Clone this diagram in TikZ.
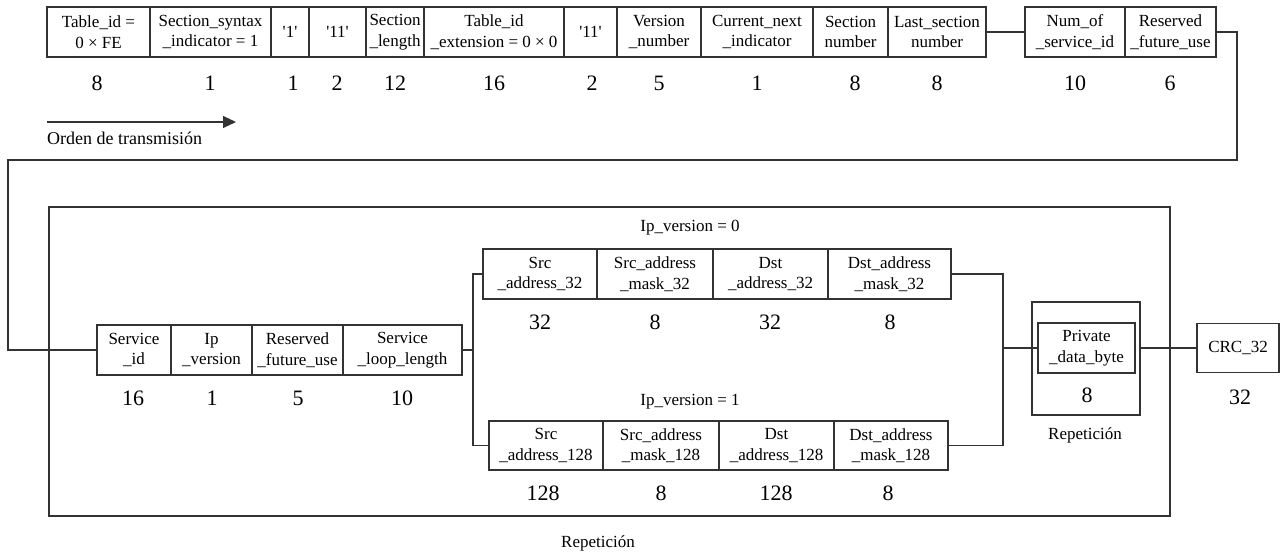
\documentclass[tikz,border=0pt]{standalone}
\usepackage{fontspec}
\setmainfont{Liberation Serif}
\usetikzlibrary{arrows.meta}
\newcommand{\sq}{\textquotesingle}
\begin{document}
\begin{tikzpicture}[x=1pt,y=-1pt,
  ln/.style={draw=black!80,line width=1.1pt},
  fbox/.style={ln,rectangle,inner sep=0pt,align=center,font=\fontsize{17}{20.5}\selectfont},
  num/.style={inner sep=0pt,font=\fontsize{22}{24}\selectfont},
  lbl/.style={inner sep=0pt,font=\fontsize{17}{20}\selectfont}]
\useasboundingbox (0,0) rectangle (1282,556);
% top row
\node[fbox,minimum width=103pt,minimum height=50pt] (t1) at (98.5,32) {Table\_id =\\0 × FE};
\node[fbox,minimum width=121pt,minimum height=50pt] (t2) at (210.5,32) {Section\_syntax\\\_indicator = 1};
\node[fbox,minimum width=38pt,minimum height=50pt] (t3) at (290,32) {\sq1\sq};
\node[fbox,minimum width=57pt,minimum height=50pt] (t4) at (337.5,32) {\sq11\sq};
\node[fbox,minimum width=58pt,minimum height=50pt] (t5) at (395,32) {Section\\\_length};
\node[fbox,minimum width=140pt,minimum height=50pt] (t6) at (494,32) {Table\_id\\\_extension = 0 × 0};
\node[fbox,minimum width=53pt,minimum height=50pt] (t7) at (590.5,32) {\sq11\sq};
\node[fbox,minimum width=84pt,minimum height=50pt] (t8) at (659,32) {Version\\\_number};
\node[fbox,minimum width=112pt,minimum height=50pt] (t9) at (757,32) {Current\_next\\\_indicator};
\node[fbox,minimum width=75pt,minimum height=50pt] (t10) at (850.5,32) {Section\\number};
\node[fbox,minimum width=98pt,minimum height=50pt] (t11) at (937,32) {Last\_section\\number};
\node[fbox,minimum width=100pt,minimum height=50pt] (t12) at (1075,32) {Num\_of\\\_service\_id};
\node[fbox,minimum width=91pt,minimum height=50pt] (t13) at (1170.5,32) {Reserved\\\_future\_use};
% top numbers
\node[num] (n1) at (97,83) {8};
\node[num] (n2) at (210,83) {1};
\node[num] (n3) at (293,83) {1};
\node[num] (n4) at (337,83) {2};
\node[num] (n5) at (395,83) {12};
\node[num] (n6) at (494,83) {16};
\node[num] (n7) at (592,83) {2};
\node[num] (n8) at (659,83) {5};
\node[num] (n9) at (757,83) {1};
\node[num] (n10) at (855,83) {8};
\node[num] (n11) at (937,83) {8};
\node[num] (n12) at (1075,83) {10};
\node[num] (n13) at (1170,83) {6};
% transmission order arrow
\coordinate (arrS) at (47,122);
\coordinate (arrE) at (236,122);
\draw[ln,-{Triangle[length=13pt,width=12pt]}] (arrS) -- (arrE);
\node[lbl,anchor=west,font=\fontsize{18}{20}\selectfont] (ord) at (47,138) {Orden de transmisión};
% outer loop box
\node[ln,rectangle,inner sep=0pt,minimum width=1121pt,minimum height=309pt] (outer) at (609.5,361.5) {};
\node[lbl] (rep1) at (598,543) {Repetición};
% service row
\node[fbox,minimum width=74pt,minimum height=50pt] (s1) at (134,350) {Service\\\_id};
\node[fbox,minimum width=81pt,minimum height=50pt] (s2) at (211.5,350) {Ip\\\_version};
\node[fbox,minimum width=91pt,minimum height=50pt] (s3) at (297.5,350) {Reserved\\\_future\_use};
\node[fbox,minimum width=119pt,minimum height=50pt] (s4) at (402.5,350) {Service\\\_loop\_length};
\node[num] (m1) at (133,398) {16};
\node[num] (m2) at (212,398) {1};
\node[num] (m3) at (298,398) {5};
\node[num] (m4) at (402,398) {10};
% ip version 0
\node[lbl] (ip0) at (690,228) {Ip\_version = 0};
\node[fbox,minimum width=114pt,minimum height=50pt] (a1) at (540,274) {Src\\\_address\_32};
\node[fbox,minimum width=116pt,minimum height=50pt] (a2) at (655,274) {Src\_address\\\_mask\_32};
\node[fbox,minimum width=115pt,minimum height=50pt] (a3) at (770.5,274) {Dst\\\_address\_32};
\node[fbox,minimum width=123pt,minimum height=50pt] (a4) at (889.5,274) {Dst\_address\\\_mask\_32};
\node[num] (p1) at (540,322) {32};
\node[num] (p2) at (655,322) {8};
\node[num] (p3) at (770,322) {32};
\node[num] (p4) at (890,322) {8};
% ip version 1
\node[lbl] (ip1) at (690,402) {Ip\_version = 1};
\node[fbox,minimum width=114pt,minimum height=49pt] (b1) at (546,445.5) {Src\\\_address\_128};
\node[fbox,minimum width=116pt,minimum height=49pt] (b2) at (661,445.5) {Src\_address\\\_mask\_128};
\node[fbox,minimum width=115pt,minimum height=49pt] (b3) at (776.5,445.5) {Dst\\\_address\_128};
\node[fbox,minimum width=114pt,minimum height=49pt] (b4) at (891,445.5) {Dst\_address\\\_mask\_128};
\node[num] (q1) at (543,493) {128};
\node[num] (q2) at (661,493) {8};
\node[num] (q3) at (776,493) {128};
\node[num] (q4) at (888,493) {8};
% private data loop
\node[ln,rectangle,inner sep=0pt,minimum width=108pt,minimum height=113pt] (rep) at (1086,358.5) {};
\node[fbox,minimum width=97pt,minimum height=50pt] (pd) at (1086.5,348) {Private\\\_data\_byte};
\node[num] (pn) at (1087,395) {8};
\node[lbl] (rep2) at (1085,435) {Repetición};
% CRC
\node[fbox,minimum width=82pt,minimum height=49pt] (crc) at (1238,348) {CRC\_32};
\node[num] (cn) at (1240,397) {32};
% connectors
\draw[ln] (t11.east) -- (t12.west);
\coordinate (c1) at (1237,160);
\coordinate (c2) at (8,160);
\draw[ln] (t13.east) -| (c1) -- (c2) |- (s1.west);
\coordinate (jL) at (473,350);
\draw[ln] (s4.east) -- (jL);
\draw[ln] (a1.west) -| (jL) |- (b1.west);
\coordinate (jR) at (1003,348);
\draw[ln] (a4.east) -| (jR) |- (b4.east);
\draw[ln] (jR) -- (pd.west);
\draw[ln] (pd.east -| rep.east) -- (crc.west);
\end{tikzpicture}
\end{document}
